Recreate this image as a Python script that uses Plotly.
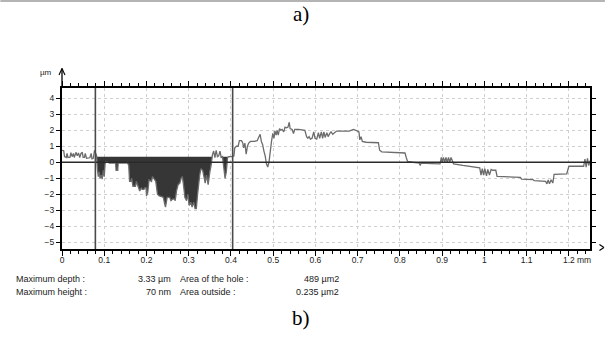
import numpy as np
import plotly.graph_objects as go

# ---- profile data (lateral position in mm, height in µm) ----
x_mm = [
    0.000, 0.004, 0.006, 0.010, 0.012, 0.014, 0.019, 0.021, 0.024, 0.027, 0.029, 0.033,
    0.036, 0.039, 0.042, 0.045, 0.048, 0.050, 0.053, 0.055, 0.058, 0.062, 0.066, 0.069,
    0.071, 0.074, 0.077, 0.080,
    0.082, 0.084, 0.086, 0.088, 0.090, 0.093, 0.095, 0.098, 0.100, 0.102, 0.104, 0.110,
    0.112, 0.127, 0.128, 0.132, 0.133, 0.152, 0.154, 0.158, 0.160, 0.163, 0.165, 0.168,
    0.174, 0.176, 0.180, 0.184, 0.188, 0.190, 0.194, 0.196, 0.199, 0.200, 0.203, 0.206,
    0.212, 0.214, 0.217, 0.222, 0.226, 0.230, 0.236, 0.240, 0.243, 0.245, 0.247, 0.249,
    0.255, 0.258, 0.262, 0.266, 0.268, 0.271, 0.275, 0.279, 0.282, 0.285, 0.288, 0.291,
    0.295, 0.298, 0.301, 0.305, 0.308, 0.312, 0.315, 0.318, 0.321, 0.323, 0.326, 0.329,
    0.333, 0.336, 0.339, 0.342, 0.346, 0.350, 0.353, 0.356, 0.359, 0.362, 0.365, 0.368,
    0.371, 0.374, 0.377, 0.380, 0.383, 0.386, 0.389, 0.392, 0.396, 0.404,
    0.407, 0.409, 0.413, 0.417, 0.420, 0.425, 0.428, 0.430, 0.433, 0.436, 0.439, 0.442,
    0.446, 0.455, 0.462, 0.466, 0.469, 0.472, 0.475, 0.478, 0.481, 0.484, 0.487, 0.490,
    0.493, 0.496, 0.499, 0.502, 0.504, 0.507, 0.509, 0.512, 0.515, 0.518, 0.521, 0.525,
    0.528, 0.532, 0.535, 0.538, 0.540, 0.545, 0.548, 0.551, 0.560, 0.575, 0.579, 0.582,
    0.585, 0.588, 0.592, 0.596, 0.599, 0.603, 0.607, 0.610, 0.614, 0.617, 0.620, 0.623,
    0.627, 0.630, 0.634, 0.637, 0.641, 0.645, 0.650,
    0.680, 0.690, 0.700, 0.703, 0.705, 0.708, 0.711, 0.720, 0.749, 0.752, 0.757, 0.790,
    0.812, 0.815, 0.818, 0.830, 0.846, 0.848, 0.850, 0.875, 0.895,
    0.898, 0.900, 0.903, 0.906, 0.909, 0.912, 0.915, 0.918, 0.921, 0.924, 0.927, 0.949,
    0.960, 0.989, 0.992, 0.995, 0.998, 1.001, 1.005, 1.008, 1.012, 1.016, 1.020, 1.027,
    1.030, 1.040, 1.085, 1.088, 1.115, 1.118, 1.145, 1.148, 1.151, 1.154, 1.158, 1.162,
    1.165, 1.195, 1.200, 1.235, 1.238, 1.241, 1.244, 1.247, 1.250,
]
z_um = [
    0.75, 0.72, 0.35, 0.30, 0.55, 0.30, 0.32, 0.60, 0.35, 0.55, 0.30, 0.62,
    0.40, 0.58, 0.30, 0.55, 0.62, 0.30, 0.30, 0.55, 0.25, 0.25, 0.28, 0.55,
    0.22, 0.25, 0.75, 0.55,
    0.40, -0.50, -0.90, -0.60, -1.00, -0.80, -1.05, -0.50, -0.90, -0.10, 0.05, 0.00,
    -0.05, -0.05, -0.50, -0.50, -0.05, -0.05, 0.00, -0.20, -1.20, -1.20, -1.00, -1.50,
    -1.50, -1.20, -1.50, -1.80, -1.60, -1.70, -1.70, -1.60, -1.60, -2.10, -1.90, -1.10,
    -1.20, -0.90, -1.00, -1.20, -2.00, -2.10, -2.15, -2.20, -2.60, -2.80, -2.50, -2.20,
    -2.20, -2.40, -2.30, -2.30, -2.40, -1.80, -1.40, -1.30, -1.00, -0.90, -1.50, -2.20,
    -2.40, -2.00, -2.70, -2.50, -2.80, -2.50, -2.90, -2.90, -2.00, -1.40, -0.80, -0.40,
    -0.50, -0.90, -1.30, -0.80, -1.40, -0.60, -0.20, 0.45, 0.70, 0.30, 0.75, 0.35,
    0.40, 0.70, 0.30, 0.35, -0.30, -1.00, -0.60, 0.30, 0.35, 0.35,
    0.40, 0.90, 1.00, 1.00, 1.35, 1.35, 1.20, 0.90, 1.20, 0.50, 1.00, 1.20,
    1.30, 1.30, 1.35, 1.60, 1.75, 1.30, 1.10, 0.70, 0.40, -0.10, -0.30, 0.00,
    0.90, 1.30, 1.80, 1.50, 1.95, 1.70, 2.00, 1.70, 2.10, 2.00, 2.05, 1.90,
    2.20, 2.15, 2.20, 2.50, 2.10, 2.05, 1.80, 2.05, 2.05, 2.00, 1.60, 1.50,
    1.60, 1.45, 1.50, 1.90, 1.50, 1.45, 1.85, 1.50, 1.90, 1.50, 1.90, 1.55,
    1.85, 1.60, 1.80, 1.90, 1.75, 1.85, 1.95,
    1.95, 2.05, 1.95, 1.90, 1.40, 1.60, 1.30, 1.25, 1.22, 0.75, 0.65, 0.62,
    0.58, 0.30, 0.05, 0.00, -0.05, -0.20, -0.05, -0.08, -0.10,
    0.30, 0.00, 0.30, 0.00, 0.30, 0.00, 0.30, 0.00, 0.30, 0.05, -0.10, -0.20,
    -0.25, -0.35, -0.80, -0.40, -0.80, -0.40, -0.85, -0.45, -0.80, -0.45, -0.50, -0.50,
    -0.88, -0.90, -0.95, -1.05, -1.08, -1.15, -1.20, -1.35, -1.10, -1.35, -1.10, -1.30,
    -0.75, -0.72, -0.25, -0.25, 0.20, -0.30, 0.25, -0.20, 0.10,
]

# measurement cursors (mm) and the reference level of the hole (µm)
cursor_x = [0.079, 0.404]
hole_level_um = 0.35
baseline_um = 0.0

# axis ticks
x_ticks = [0, 0.1, 0.2, 0.3, 0.4, 0.5, 0.6, 0.7, 0.8, 0.9, 1.0, 1.1, 1.2]
x_ticktext = ["0", "0.1", "0.2", "0.3", "0.4", "0.5", "0.6", "0.7", "0.8", "0.9", "1", "1.1", "1.2"]
y_ticks = [-5, -4, -3, -2, -1, 0, 1, 2, 3, 4]

# results table
stat_labels_left = ["Maximum depth :", "Maximum height :"]
stat_values_left = ["3.33 µm", "70 nm"]
stat_labels_right = ["Area of the hole :", "Area outside :"]
stat_values_right = ["489 µm2", "0.235 µm2"]

# ---- figure geometry (pixels) ----
W, H = 608, 345
L, R, T, B = 62, 593, 88, 249
PW, PH = R - L, B - T


def px(xp):
    return (xp - L) / PW


def py(yp):
    return (B - yp) / PH


FONT = "Liberation Sans, Arial, sans-serif"
SERIF = "Liberation Serif, Times New Roman, serif"
TICK_SIZE = 8.5
TEXT_SIZE = 9

xa = np.array(x_mm)
za = np.array(z_um)

# closed polygon of the hole: profile below the reference level between cursors
x0c, x1c = cursor_x
inside = (xa > x0c) & (xa < x1c)
hx = np.concatenate([[x0c], xa[inside], [x1c]])
hz = np.concatenate([[np.interp(x0c, xa, za)], za[inside], [np.interp(x1c, xa, za)]])
hz = np.minimum(hz, hole_level_um)
poly_x = np.concatenate([hx, [x1c, x0c]])
poly_z = np.concatenate([hz, [hole_level_um, hole_level_um]])

fig = go.Figure()
fig.add_trace(go.Scatter(
    x=poly_x, y=poly_z, mode="lines", fill="toself",
    fillcolor="#363636", line=dict(width=0, color="#363636"),
    hoverinfo="skip", showlegend=False,
))
fig.add_trace(go.Scatter(
    x=x_mm, y=z_um, mode="lines",
    line=dict(color="#6c6c6c", width=1.3),
    showlegend=False,
))

shapes = []
# zero reference line
shapes.append(dict(type="line", xref="paper", x0=0, x1=1, yref="y", y0=baseline_um, y1=baseline_um,
                   line=dict(color="#2a2a2a", width=1.6), layer="above"))
# cursor lines
for cx in cursor_x:
    shapes.append(dict(type="line", xref="x", x0=cx, x1=cx, yref="paper", y0=0, y1=1,
                       line=dict(color="#4a4a4a", width=1.6), layer="above"))


def seg(xa_, ya_, xb_, yb_, color="black", width=1.2):
    shapes.append(dict(type="line", xref="paper", yref="paper",
                       x0=px(xa_), y0=py(ya_), x1=px(xb_), y1=py(yb_),
                       line=dict(color=color, width=width), layer="above"))


# y axis arrow
seg(L, T, L, 68.5, width=1.3)
seg(L - 3, 75, L, 68.5, width=1.1)
seg(L + 3, 75, L, 68.5, width=1.1)
# x axis arrow tip
seg(602.5, 244.5, 607, 247.5, width=1.1)
seg(602.5, 250.5, 607, 247.5, width=1.1)
# header separator
seg(0, 1, W, 1, color="#b4b4b4", width=2)

annotations = [
    dict(text="a)", x=px(302), y=py(14), xref="paper", yref="paper", showarrow=False,
         font=dict(family=SERIF, size=21, color="black"), xanchor="center", yanchor="middle"),
    dict(text="b)", x=px(302), y=py(318), xref="paper", yref="paper", showarrow=False,
         font=dict(family=SERIF, size=21, color="black"), xanchor="center", yanchor="middle"),
    dict(text="µm", x=px(54), y=py(73), xref="paper", yref="paper", showarrow=False,
         font=dict(family=FONT, size=8, color="#222"), xanchor="right", yanchor="middle"),
    dict(text="mm", x=px(577.5), y=py(259.5), xref="paper", yref="paper", showarrow=False,
         font=dict(family=FONT, size=TICK_SIZE, color="#222"), xanchor="left", yanchor="middle"),
]
row_y = [279, 292]
for i in range(2):
    yy = py(row_y[i])
    annotations += [
        dict(text=stat_labels_left[i], x=px(14), y=yy, xanchor="left"),
        dict(text=stat_values_left[i], x=px(174), y=yy, xanchor="right"),
        dict(text=stat_labels_right[i], x=px(179), y=yy, xanchor="left"),
        dict(text=stat_values_right[i], x=px(343), y=yy, xanchor="right"),
    ]
for a in annotations[4:]:
    a.update(xref="paper", yref="paper", showarrow=False, yanchor="middle",
             font=dict(family=FONT, size=TEXT_SIZE, color="#222"))

fig.update_layout(
    width=W, height=H,
    margin=dict(l=L, r=W - R, t=T, b=H - B, pad=0),
    paper_bgcolor="white", plot_bgcolor="white",
    shapes=shapes, annotations=annotations,
    font=dict(family=FONT, size=TICK_SIZE, color="#222"),
)
fig.update_xaxes(
    range=[0, 1.25], tickmode="array", tickvals=x_ticks, ticktext=x_ticktext,
    ticks="outside", ticklen=5, tickwidth=1, tickcolor="black",
    showline=True, linecolor="black", linewidth=2, mirror="allticks",
    showgrid=True, gridcolor="#cfcfcf", griddash="dot", gridwidth=1,
    zeroline=False, tickfont=dict(family=FONT, size=TICK_SIZE, color="#222"),
    ticklabelstandoff=-3,
    minor=dict(dtick=0.02, tick0=0, ticks="outside", ticklen=3, tickcolor="black", showgrid=False),
)
fig.update_yaxes(
    range=[-5.42, 4.64], tickmode="array", tickvals=y_ticks,
    ticks="outside", ticklen=4, tickwidth=1, tickcolor="black",
    showline=True, linecolor="black", linewidth=2, mirror="allticks",
    showgrid=True, gridcolor="#cfcfcf", griddash="dot", gridwidth=1,
    zeroline=False, tickfont=dict(family=FONT, size=TICK_SIZE, color="#222"),
)

fig.write_html("out.html")
